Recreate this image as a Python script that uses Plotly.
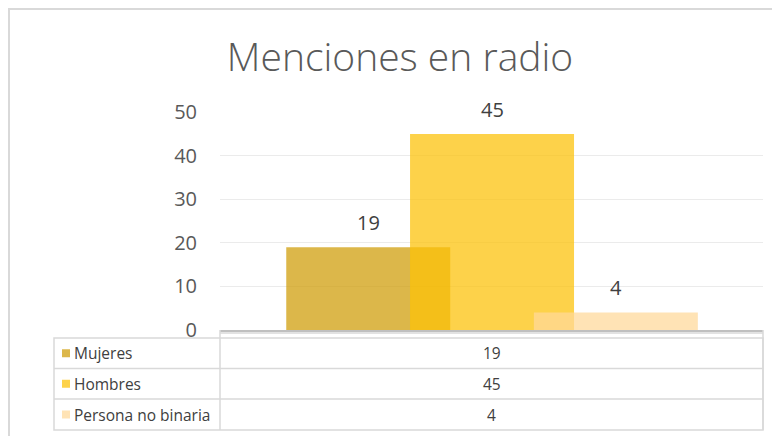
import plotly.graph_objects as go

# ---- data ----
categories = ["Mujeres", "Hombres", "Persona no binaria"]
values = [19, 45, 4]
y_ticks = [0, 10, 20, 30, 40, 50]
title_text = "Menciones en radio"

# ---- styles ----
bar_colors = ["rgba(207,156,7,0.73)", "rgba(252,193,7,0.73)", "rgba(255,217,154,0.73)"]
bar_width = 0.302
bar_offsets = [-0.378, -0.150, 0.078]

S = 8  # page body margin offset
W, H = 780 - S, 436 - S
L, R, T, B = 220, 763, 112, 330  # plot area in screen pixels


def px(xp):
    return (xp - L) / (R - L)


def py(yp):
    return (B - yp) / (B - T)


fig = go.Figure()
for name, v, c, off in zip(categories, values, bar_colors, bar_offsets):
    fig.add_trace(go.Bar(
        x=[""], y=[v], name=name, width=bar_width, offset=off,
        marker=dict(color=c, line=dict(width=0)), showlegend=False,
        hoverinfo="name+y",
    ))

annotations = []
for v, off in zip(values, bar_offsets):
    annotations.append(dict(
        x=off + bar_width / 2, y=v, xref="x", yref="y", text=str(v),
        showarrow=False, yanchor="middle", yshift=25,
        font=dict(family="Open Sans", size=20, color="#404040"),
    ))

shapes = []
grid_c = "#D9D9D9"
shapes.append(dict(type="rect", xref="paper", yref="paper",
                   x0=px(9), x1=px(790), y0=py(9), y1=py(445),
                   line=dict(color=grid_c, width=2), layer="below"))
shapes.append(dict(type="line", xref="paper", yref="paper",
                   x0=px(220), x1=px(763), y0=py(333), y1=py(333),
                   line=dict(color=grid_c, width=1.5)))
shapes.append(dict(type="rect", xref="paper", yref="paper",
                   x0=px(54), x1=px(763), y0=py(338), y1=py(430),
                   line=dict(color=grid_c, width=1.5)))
shapes.append(dict(type="line", xref="paper", yref="paper",
                   x0=px(220), x1=px(220), y0=py(330), y1=py(430),
                   line=dict(color=grid_c, width=1.5)))
shapes.append(dict(type="line", xref="paper", yref="paper",
                   x0=px(763), x1=px(763), y0=py(330), y1=py(430),
                   line=dict(color=grid_c, width=1.5)))
row_edges = [338, 368.5, 399, 430]
for ye in row_edges[1:-1]:
    shapes.append(dict(type="line", xref="paper", yref="paper",
                       x0=px(54), x1=px(763), y0=py(ye), y1=py(ye),
                       line=dict(color=grid_c, width=1.5)))

for i, (name, v, c) in enumerate(zip(categories, values, bar_colors)):
    yc = (row_edges[i] + row_edges[i + 1]) / 2
    shapes.append(dict(type="rect", xref="paper", yref="paper",
                       x0=px(62), x1=px(70), y0=py(yc - 4), y1=py(yc + 4),
                       fillcolor=c, line=dict(width=0)))
    annotations.append(dict(
        x=px(72), y=py(yc), xref="paper", yref="paper", text=name,
        showarrow=False, xanchor="left", yanchor="middle",
        font=dict(family="Open Sans", size=15.5, color="#404040"),
    ))
    annotations.append(dict(
        x=px((220 + 763) / 2), y=py(yc), xref="paper", yref="paper", text=str(v),
        showarrow=False, xanchor="center", yanchor="middle",
        font=dict(family="Open Sans", size=15.5, color="#404040"),
    ))

fig.update_layout(
    width=W, height=H,
    margin=dict(l=L - S, r=780 - R, t=T - S, b=436 - B, pad=0),
    paper_bgcolor="white", plot_bgcolor="white",
    barmode="overlay",
    title=dict(text=title_text, x=(400 - S) / W, xanchor="center",
               y=1 - (57 - S) / H, yanchor="middle", xref="container", yref="container",
               font=dict(family="Open Sans", size=39, color="#595959", weight=300)),
    xaxis=dict(type="category", range=[-0.5, 0.5], showticklabels=False,
               showgrid=False, showline=True, linecolor="#BFBFBF", linewidth=2,
               fixedrange=True, zeroline=False),
    yaxis=dict(range=[0, 50.05], tickvals=y_ticks, showgrid=True,
               gridcolor="#EBEBEB", gridwidth=1.2, zeroline=False, showline=False,
               ticks="", ticklabelstandoff=22,
               tickfont=dict(family="Open Sans", size=20, color="#595959")),
    shapes=shapes,
    annotations=annotations,
    showlegend=False,
)

fig.write_html("out.html")
